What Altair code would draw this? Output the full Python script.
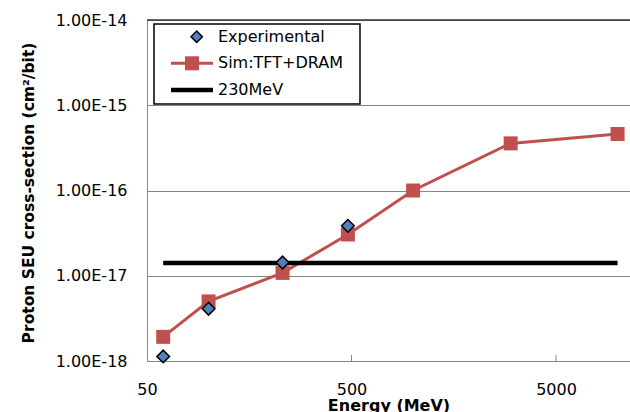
import altair as alt
import pandas as pd

# ---- data ----
energy_exp = [60, 100, 230, 480]
xs_exp = [1.13e-18, 4.1e-18, 1.43e-17, 3.85e-17]

energy_sim = [60, 100, 230, 480, 1000, 3000, 10000]
xs_sim = [1.92e-18, 5.0e-18, 1.08e-17, 3.05e-17, 1.0e-16, 3.57e-16, 4.6e-16]

energy_230 = [60, 10000]
xs_230 = [1.41e-17, 1.41e-17]

x_ticks = [50, 500, 5000]
y_ticks = [1e-18, 1e-17, 1e-16, 1e-15, 1e-14]
legend_labels = ["Experimental", "Sim:TFT+DRAM", "230MeV"]

FONT = "DejaVu Sans"
GRID = "#868686"
RED = "#C0504D"
BLUE = "#4F81BD"
W, H = 483, 341

df_exp = pd.DataFrame({"energy": energy_exp, "xs": xs_exp})
df_sim = pd.DataFrame({"energy": energy_sim, "xs": xs_sim})
df_230 = pd.DataFrame({"energy": energy_230, "xs": xs_230})
df_tick = pd.DataFrame({"energy": x_ticks[1:]})
one = pd.DataFrame({"a": [0]})

xscale = alt.Scale(type="log", domain=[50, 11500], nice=False)
yscale = alt.Scale(type="log", domain=[1e-18, 1e-14], nice=False)

x_axis = alt.Axis(
    values=x_ticks, labelExpr="format(datum.value, 'd')", ticks=False, grid=False,
    domainColor=GRID, labelFont=FONT, labelFontSize=16, labelColor="black",
    labelPadding=20, labelFlush=False, labelOverlap=False,
    title="Energy (MeV)", titleFont=FONT, titleFontSize=16, titleFontWeight="bold",
    titleColor="black", titleBaseline="top", titleY=36,
)
y_axis = alt.Axis(
    values=y_ticks, labelExpr="upper(format(datum.value, '.2e'))", ticks=False,
    grid=True, gridColor=GRID, gridWidth=1, domainColor=GRID,
    labelFont=FONT, labelFontSize=16, labelColor="black", labelPadding=20,
    labelFlush=False, labelOverlap=False,
    title="Proton SEU cross-section (cm²/bit)", titleFont=FONT, titleFontSize=15.5,
    titleFontWeight="bold", titleColor="black", titleBaseline="middle",
    titleX=-119, titleY=H / 2 + 2, titleAngle=-90,
)

X = alt.X("energy:Q", scale=xscale, axis=x_axis)
Y = alt.Y("xs:Q", scale=yscale, axis=y_axis)

sim_line = alt.Chart(df_sim).mark_line(color=RED, strokeWidth=3).encode(x=X, y=Y)
sim_pts = alt.Chart(df_sim).mark_square(size=196, color=RED, opacity=1).encode(x=X, y=Y)
line230 = alt.Chart(df_230).mark_line(color="black", strokeWidth=4.5).encode(x=X, y=Y)
exp_pts = alt.Chart(df_exp).mark_point(
    shape="diamond", filled=True, fill=BLUE, stroke="black", strokeWidth=1.5,
    size=160, opacity=1,
).encode(x=X, y=Y)
inner_ticks = alt.Chart(df_tick).mark_rule(color=GRID).encode(
    x=X, y=alt.value(H - 6), y2=alt.value(H),
)
top_border = alt.Chart(one).mark_rule(color="#333333", strokeWidth=1.5).encode(
    x=alt.value(0), x2=alt.value(W), y=alt.value(0)
)

# ---- legend ----
leg_box = alt.Chart(one).mark_rect(fill="white", stroke="black", strokeWidth=1.5).encode(
    x=alt.value(7), x2=alt.value(213), y=alt.value(4), y2=alt.value(84)
)
row_y = [16.7, 43.3, 70]
leg_diamond = alt.Chart(one).mark_point(
    shape="diamond", filled=True, fill=BLUE, stroke="black", strokeWidth=1.5,
    size=130, opacity=1,
).encode(x=alt.value(49.7), y=alt.value(row_y[0]))
leg_sim_line = alt.Chart(one).mark_rule(color=RED, strokeWidth=3).encode(
    x=alt.value(24), x2=alt.value(66), y=alt.value(row_y[1])
)
leg_sim_sq = alt.Chart(one).mark_square(size=196, color=RED, opacity=1).encode(
    x=alt.value(45), y=alt.value(row_y[1])
)
leg_230 = alt.Chart(one).mark_rule(color="black", strokeWidth=4.5).encode(
    x=alt.value(24), x2=alt.value(66), y=alt.value(row_y[2])
)
leg_texts = [
    alt.Chart(one).mark_text(
        align="left", baseline="middle", font=FONT, fontSize=16, color="black"
    ).encode(x=alt.value(71), y=alt.value(yy), text=alt.value(lbl))
    for lbl, yy in zip(legend_labels, row_y)
]

chart = alt.layer(
    sim_line, inner_ticks, sim_pts, line230, exp_pts, top_border,
    leg_box, leg_diamond, leg_sim_line, leg_sim_sq, leg_230, *leg_texts,
).properties(
    width=W, height=H,
    padding={"left": 147, "top": 20, "right": 0, "bottom": 51},
    autosize=alt.AutoSizeParams(type="none"),
    background="white",
).configure_view(strokeWidth=0)

chart.save("out.html", embed_options={"renderer": "svg", "actions": False})
